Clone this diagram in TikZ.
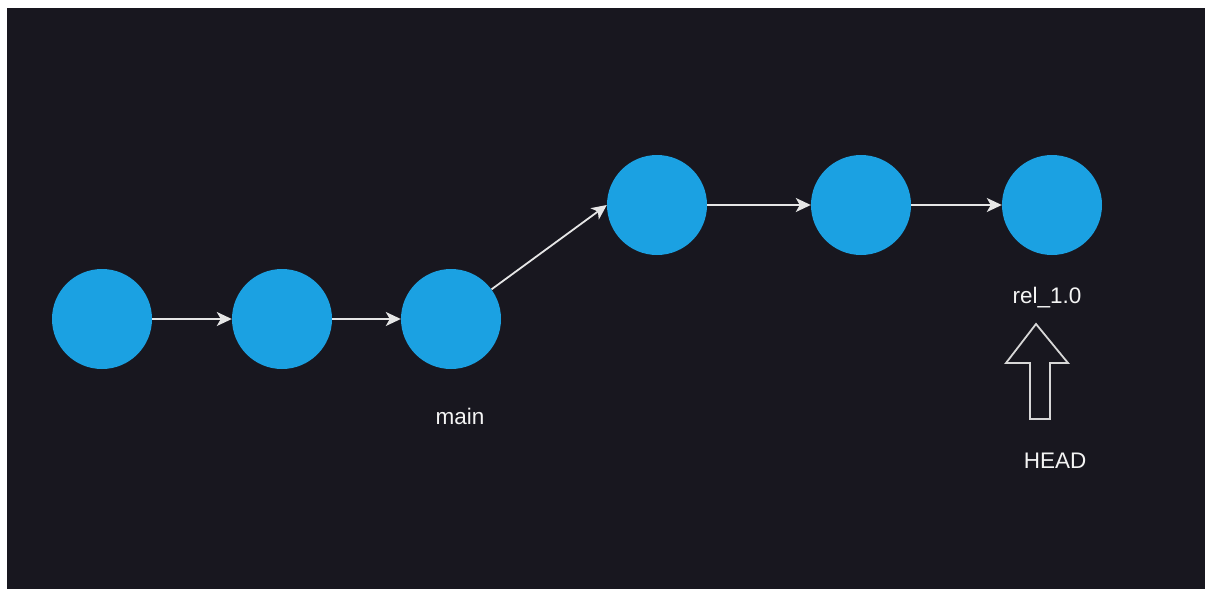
\documentclass[tikz,border=0pt]{standalone}
\usepackage{fontspec}
\setmainfont{Liberation Sans}
\usetikzlibrary{arrows.meta}
\definecolor{bgdark}{HTML}{18171F}
\definecolor{commitblue}{HTML}{1BA1E2}
\definecolor{edgegray}{HTML}{E6E6E6}
\definecolor{txtwhite}{HTML}{F4F4F4}
\tikzset{
  commit/.style={circle, fill=commitblue, draw=none, minimum size=100pt, inner sep=0pt},
  link/.style={draw=edgegray, line width=1.8pt, -{Stealth[length=15pt,width=14pt,inset=4pt]}},
  lbl/.style={text=txtwhite, font=\fontsize{22.5}{26}\selectfont, inner sep=0pt},
  headarrow/.style={draw=edgegray!85!gray, line width=1.8pt, line join=miter}
}
\begin{document}
\begin{tikzpicture}[x=1pt,y=-1pt]
\useasboundingbox (0,0) rectangle (1205,589);
\fill[white] (0,0) rectangle (1205,589);
\fill[bgdark] (7,8) rectangle (1205,589);
\node[commit] (c1) at (102,319) {};
\node[commit] (c2) at (282,319) {};
\node[commit] (c3) at (451,319) {};
\node[commit] (c4) at (657,205) {};
\node[commit] (c5) at (861,205) {};
\node[commit] (c6) at (1052,205) {};
\draw[link] (c1) -- (c2);
\draw[link] (c2) -- (c3);
\draw[link] (c3) -- (c4.west);
\draw[link] (c4) -- (c5);
\draw[link] (c5) -- (c6);
\node[lbl] (main) at (460,416) {main};
\node[lbl] (rel) at (1047,298) {rel\_1.0};
\node[lbl] (head) at (1055,461) {HEAD};
\draw[headarrow] (1036,324) -- (1068,363) -- (1050,363) -- (1050,419) -- (1030,419) -- (1030,363) -- (1006,363) -- cycle;
\end{tikzpicture}
\end{document}
